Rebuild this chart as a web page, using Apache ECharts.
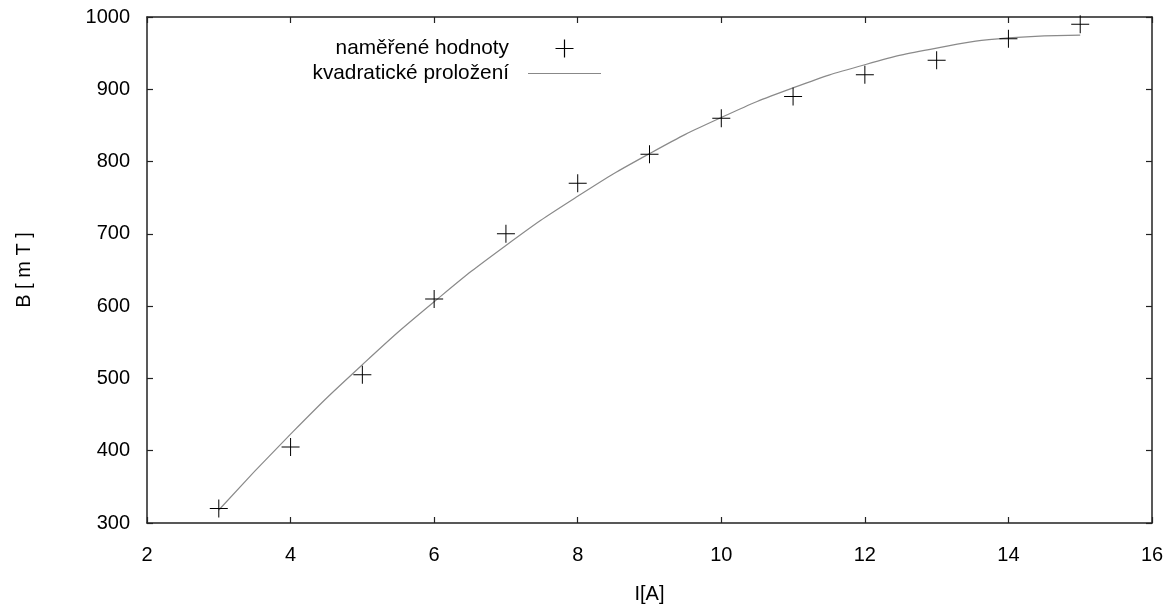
<!DOCTYPE html>
<html>
<head>
<meta charset="utf-8">
<script src="https://cdn.jsdelivr.net/npm/echarts@6/dist/echarts.min.js"></script>
<style>
  html, body { margin: 0; padding: 0; background: #fff; }
  #chart { width: 1170px; height: 604px; }
</style>
</head>
<body>
<div id="chart"></div>
<script>
// measured points: current I [A] vs field B [mT]
var currentA = [3, 4, 5, 6, 7, 8, 9, 10, 11, 12, 13, 14, 15];
var fieldMT = [320, 405, 505, 610, 700, 770, 810, 860, 890, 920, 940, 970, 990];
// quadratic fit curve at each integer current
var fitX = [3, 4, 5, 6, 7, 8, 9, 10, 11, 12, 13, 14, 15];
var fitY = [318, 423, 519, 606, 684, 752, 811, 861, 902, 934, 957, 971, 975];
var xTicks = [2, 4, 6, 8, 10, 12, 14, 16];
var yTicks = [300, 400, 500, 600, 700, 800, 900, 1000];

var measuredName = 'naměřené hodnoty';
var fitName = 'kvadratické proložení';

var font = 'Liberation Sans, Arial, sans-serif';
var plusPath = 'path://M0,8.5h18v1h-18z M8.5,0h1v18h-1z';
var plusLegend = 'path://M41.5,8.4h18v1.2h-18z M49.9,0h1.2v18h-1.2z M0,0h0.01v0.01z M86.99,17.99h0.01v0.01z';
var lineLegend = 'path://M14,8.5h73v1h-73z M0,0h0.01v0.01z M86.99,17.99h0.01v0.01z';

function pairs(xs, ys) {
    var out = [];
    for (var i = 0; i < xs.length; i++) {
        out.push([xs[i], ys[i]]);
    }
    return out;
}

var myChart = echarts.init(document.getElementById('chart'));

var axisCommon = {
    axisLine: { show: true, onZero: false, lineStyle: { color: '#222', width: 1.5 } },
    axisTick: { show: true, inside: true, length: 6, lineStyle: { color: '#222', width: 1.2 } },
    splitLine: { show: false }
};

var legendText = { fontSize: 20.8, color: '#000', fontFamily: font };

var option = {
    animation: false,
    textStyle: { fontFamily: font },
    grid: {
        left: 147, right: 18, top: 17, bottom: 81,
        containLabel: false, outerBoundsMode: 'none'
    },
    legend: [
        {
            data: [{ name: measuredName, icon: plusLegend }],
            right: 564, top: 33,
            align: 'right',
            itemWidth: 87, itemHeight: 18,
            textStyle: legendText,
            itemStyle: { color: '#000' }
        },
        {
            data: [{ name: fitName, icon: lineLegend }],
            right: 564, top: 58,
            align: 'right',
            itemWidth: 87, itemHeight: 18,
            textStyle: legendText,
            itemStyle: { color: '#888' }
        }
    ],
    xAxis: [
        Object.assign({
            type: 'value', min: 2, max: 16, interval: 2,
            name: 'I[A]', nameLocation: 'middle', nameGap: 61,
            nameTextStyle: { fontSize: 20, color: '#000' },
            axisLabel: { fontSize: 20, color: '#000', margin: 22 }
        }, axisCommon),
        Object.assign({
            type: 'value', min: 2, max: 16, interval: 2, position: 'top',
            axisLabel: { show: false }
        }, axisCommon)
    ],
    yAxis: [
        Object.assign({
            type: 'value', min: 300, max: 1000, interval: 100,
            name: 'B [ m T ]', nameLocation: 'middle', nameGap: 113,
            nameTextStyle: { fontSize: 20, color: '#000' },
            axisLabel: {
                fontSize: 20, color: '#000', margin: 17,
                padding: [8, 0, 0, 0],
                formatter: function (v) { return String(v); }
            }
        }, axisCommon),
        Object.assign({
            type: 'value', min: 300, max: 1000, interval: 100, position: 'right',
            axisLabel: { show: false }
        }, axisCommon)
    ],
    series: [
        {
            name: fitName,
            type: 'line',
            data: pairs(fitX, fitY),
            smooth: true,
            symbol: 'none',
            lineStyle: { color: '#8a8a8a', width: 1.2 },
            itemStyle: { color: '#888' },
            z: 2
        },
        {
            name: measuredName,
            type: 'scatter',
            data: pairs(currentA, fieldMT),
            symbol: plusPath,
            symbolSize: 18,
            itemStyle: { color: '#000', opacity: 1 },
            z: 3
        }
    ]
};

myChart.setOption(option, true);
window.addEventListener('resize', function () {
    myChart.resize();
});
</script>
</body>
</html>
